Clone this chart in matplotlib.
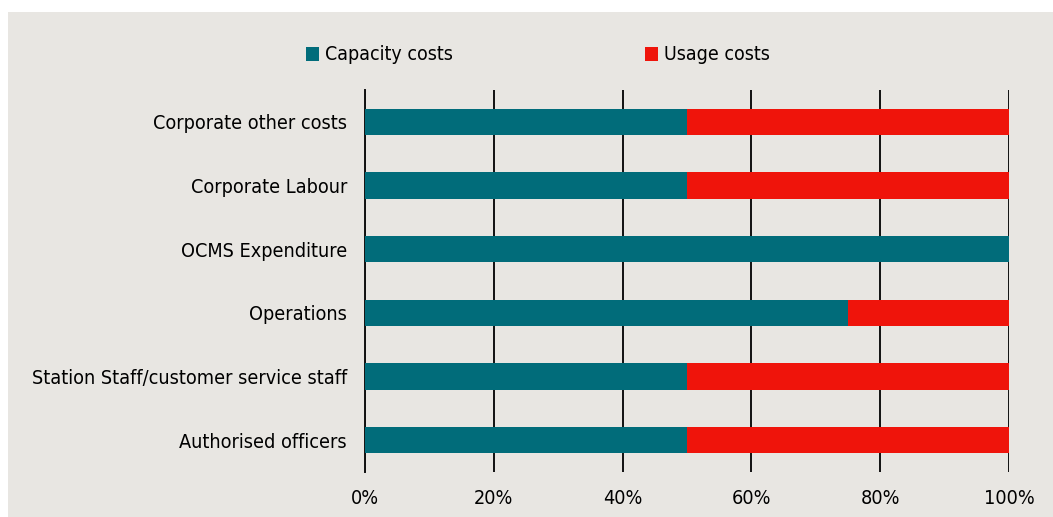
import matplotlib.pyplot as plt
from matplotlib.patches import Rectangle
from matplotlib.ticker import PercentFormatter

plt.rcParams['font.family'] = ['DejaVu Sans']
plt.rcParams['font.stretch'] = 'condensed'

categories = ['Corporate other costs', 'Corporate Labour', 'OCMS Expenditure',
              'Operations', 'Station Staff/customer service staff', 'Authorised officers']
capacity = [50, 50, 100, 75, 50, 50]
usage = [50, 50, 0, 25, 50, 50]

teal = '#016C7A'
red = '#EF140B'
panel = '#E8E6E2'

fig = plt.figure(figsize=(10.53, 5.17), dpi=100)
fig.patch.set_facecolor('white')
fig.patches.append(Rectangle((8 / 1053, 0), 1, 1 - 12 / 517, transform=fig.transFigure,
                             facecolor=panel, edgecolor='none', zorder=-1))

ax = fig.add_axes([365 / 1053, 45 / 517, 644 / 1053, 382 / 517])
ax.set_facecolor('none')

y = range(len(categories))
ax.barh(y, capacity, height=0.41, color=teal, label='Capacity costs', zorder=3)
ax.barh(y, usage, left=capacity, height=0.41, color=red, label='Usage costs', zorder=3)

ax.set_xlim(0, 100)
ax.set_ylim(len(categories) - 0.5, -0.5)
ax.set_yticks(list(y))
ax.set_yticklabels(categories, fontsize=14.2)
ax.set_xticks(range(0, 101, 20))
ax.xaxis.set_major_formatter(PercentFormatter(decimals=0))
ax.tick_params(axis='x', labelsize=14.2, length=0, pad=12)
ax.tick_params(axis='y', length=0, pad=13)

for s in ['top', 'right', 'bottom']:
    ax.spines[s].set_visible(False)
ax.spines['left'].set_color('#111111')
ax.spines['left'].set_linewidth(1.4)
ax.xaxis.grid(True, color='#111111', linewidth=1.4, zorder=1)
ax.set_axisbelow(True)

fig.legend(loc='center', bbox_to_anchor=(538 / 1053, 1 - 55 / 517), ncol=2, frameon=False,
           fontsize=14, handlelength=0.65, handleheight=0.7, handletextpad=0.3,
           columnspacing=9.9)

fig.savefig('out.png', dpi=100, facecolor=fig.get_facecolor())
